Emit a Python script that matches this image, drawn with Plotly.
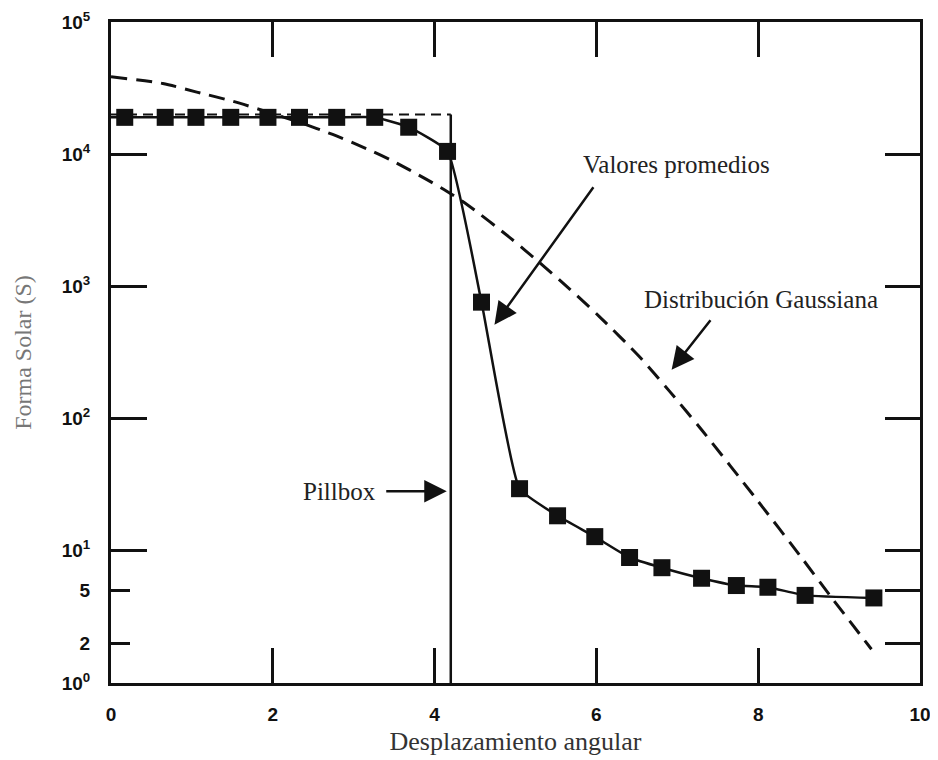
import plotly.graph_objects as go

# Average measured values (squares)
avg_x = [0.17, 0.67, 1.05, 1.48, 1.94, 2.33, 2.79, 3.26, 3.68, 4.16, 4.58,
         5.05, 5.52, 5.98, 6.41, 6.81, 7.30, 7.73, 8.12, 8.58, 9.43]
avg_y = [19000, 19000, 19000, 19000, 19000, 19000, 19000, 19000, 16000, 10500, 760,
         29.5, 18.4, 12.8, 8.9, 7.45, 6.2, 5.46, 5.3, 4.6, 4.4]

# Gaussian distribution (dashed)
gauss_x = [0.0, 0.64, 1.06, 1.51, 1.93, 2.33, 2.74, 3.16, 3.48, 3.9, 4.15,
           4.4, 4.93, 5.3, 5.67, 6.04, 6.53, 6.9, 7.31, 7.98, 8.54, 8.91, 9.4]
gauss_y = [38500, 34300, 29500, 25100, 20900, 17400, 14100, 11000, 8900, 6450,
           5250, 4170, 2340, 1510, 955, 589, 295, 162, 81, 24.5, 8.8, 4.4, 1.8]

# Pillbox
pill_edge = 4.2
pill_level = 20000
pill_floor = 1

x_ticks = [0, 2, 4, 6, 8, 10]
y_ticks = [1, 2, 5, 10, 100, 1000, 10000, 100000]
y_ticktext = ["10<sup>0</sup>", "2", "5", "10<sup>1</sup>", "10<sup>2</sup>",
              "10<sup>3</sup>", "10<sup>4</sup>", "10<sup>5</sup>"]
y_decades = [10, 100, 1000, 10000]
y_right_ticks = [2, 5, 10, 100, 1000, 10000]

fig = go.Figure()

# Pillbox top (dashed) and vertical edge
fig.add_trace(go.Scatter(x=[0, pill_edge], y=[pill_level, pill_level], mode="lines",
                         line=dict(color="#111", width=2, dash="10px,6px"),
                         showlegend=False, hoverinfo="skip"))
fig.add_trace(go.Scatter(x=[pill_edge, pill_edge], y=[pill_level, pill_floor], mode="lines",
                         line=dict(color="#111", width=2.5),
                         showlegend=False, hoverinfo="skip"))

# Gaussian
fig.add_trace(go.Scatter(x=gauss_x, y=gauss_y, mode="lines",
                         line=dict(color="#111", width=3, dash="16px,9px",
                                   shape="spline", smoothing=0.7),
                         showlegend=False))

# Average values curve + squares
fig.add_trace(go.Scatter(x=[0.0] + avg_x, y=[avg_y[0]] + avg_y, mode="lines",
                         line=dict(color="#111", width=2.5, shape="spline", smoothing=0.4),
                         showlegend=False))
fig.add_trace(go.Scatter(x=avg_x, y=avg_y, mode="markers",
                         marker=dict(symbol="square", size=17, color="#111"),
                         showlegend=False))

# invisible trace for right axis
fig.add_trace(go.Scatter(x=[None], y=[None], yaxis="y2", showlegend=False))

tick_font = dict(family="Liberation Sans, Arial", size=19, color="#111", weight="bold")
serif = "Liberation Serif, Times New Roman, serif"

# page body has an 8px margin, so the figure is sized/offset to compensate
fig.update_layout(
    width=930, height=752,
    margin=dict(l=103, r=18, t=14, b=77, autoexpand=False),
    paper_bgcolor="white", plot_bgcolor="white",
    xaxis=dict(range=[0, 10], tickmode="array", tickvals=x_ticks,
               ticks="inside", ticklen=35, tickwidth=2.5, tickcolor="#111",
               showline=True, linewidth=3, linecolor="#111", mirror="ticks",
               showgrid=False, zeroline=False, automargin=False,
               tickfont=tick_font, ticklabelstandoff=12,
               title=dict(text="Desplazamiento angular",
                          font=dict(family=serif, size=26, color="#333"),
                          standoff=9)),
    yaxis=dict(type="log", range=[0, 5], tickmode="array", tickvals=y_ticks,
               ticktext=y_ticktext, ticks="inside", ticklen=19, tickwidth=2.5,
               tickcolor="#111", showline=True, linewidth=3, linecolor="#111",
               mirror=True, showgrid=False, zeroline=False, automargin=False,
               tickfont=tick_font, ticklabelstandoff=14,
               minor=dict(tickmode="array", tickvals=y_decades, ticks="inside",
                          ticklen=36, tickwidth=2.5, tickcolor="#111", showgrid=False),
               title=dict(text="Forma Solar (S)",
                          font=dict(family=serif, size=24, color="#777"),
                          standoff=24)),
    yaxis2=dict(type="log", range=[0, 5], overlaying="y", side="right",
                tickmode="array", tickvals=y_right_ticks, ticks="inside",
                ticklen=35, tickwidth=2.5, tickcolor="#111", automargin=False,
                showticklabels=False, showline=False, showgrid=False, zeroline=False),
)

ann_font = dict(family=serif, size=25, color="#222")
# Text labels
fig.add_annotation(x=6.99, y=3.92, text="Valores promedios", showarrow=False,
                   font=ann_font, xanchor="center", yanchor="middle")
fig.add_annotation(x=8.04, y=2.90, text="Distribución Gaussiana", showarrow=False,
                   font=ann_font, xanchor="center", yanchor="middle")
fig.add_annotation(x=2.83, y=1.45, text="Pillbox", showarrow=False,
                   font=ann_font, xanchor="center", yanchor="middle")
# Arrows
arrow_style = dict(showarrow=True, arrowhead=2, arrowsize=1.8, arrowwidth=2.5,
                   arrowcolor="#111", text="")
fig.add_annotation(x=4.74, y=2.71, ax=100, ay=-139, **arrow_style)
fig.add_annotation(x=6.93, y=2.37, ax=40, ay=-51, **arrow_style)
fig.add_annotation(x=4.15, y=1.45, ax=-62, ay=0, **arrow_style)

fig.write_html("out.html")
